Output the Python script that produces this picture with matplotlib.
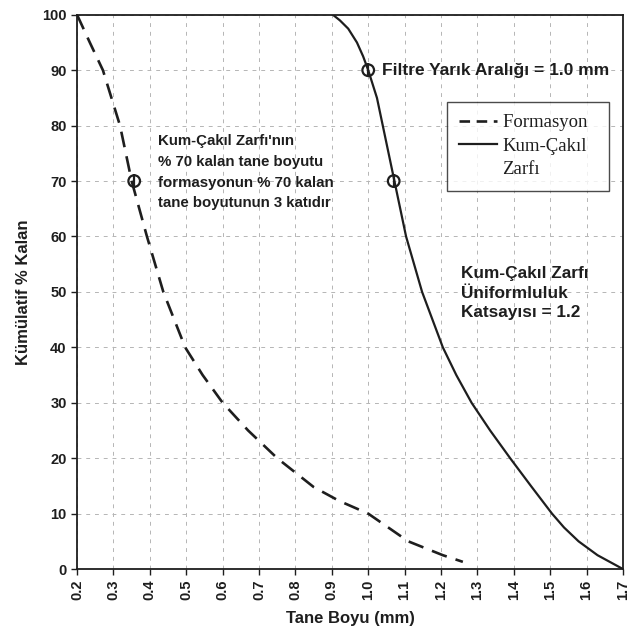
import matplotlib

matplotlib.use("Agg")
import matplotlib.pyplot as plt
from matplotlib.lines import Line2D

formasyon_x = [0.20, 0.235, 0.271, 0.318, 0.350, 0.392, 0.437, 0.497, 0.545, 0.60, 0.67, 0.75, 0.85, 0.92, 1.00, 1.11, 1.205, 1.26]
formasyon_y = [100, 95, 90, 80, 70, 60, 50, 40, 35, 30, 25, 20, 14.8, 12.3, 10, 5, 2.5, 1.3]

zarf_x = [0.903, 0.922, 0.945, 0.969, 0.986, 1.00, 1.024, 1.040, 1.072, 1.104, 1.148, 1.205, 1.242, 1.284, 1.335, 1.390, 1.447, 1.505, 1.538, 1.578, 1.630, 1.70]
zarf_y = [100, 99, 97.5, 95, 92.5, 90, 85, 80, 70, 60, 50, 40, 35, 30, 25, 20, 15, 10, 7.5, 5, 2.5, 0]

marker_x = [0.357, 1.00, 1.07]
marker_y = [70, 90, 70]

x_ticks = [0.2, 0.3, 0.4, 0.5, 0.6, 0.7, 0.8, 0.9, 1.0, 1.1, 1.2, 1.3, 1.4, 1.5, 1.6, 1.7]
y_ticks = [0, 10, 20, 30, 40, 50, 60, 70, 80, 90, 100]

note_left = "Kum-Çakıl Zarfı'nın\n% 70 kalan tane boyutu\nformasyonun % 70 kalan\ntane boyutunun 3 katıdır"
note_filter = "Filtre Yarık Aralığı = 1.0 mm"
note_uniform = "Kum-Çakıl Zarfı\nÜniformluluk\nKatsayısı = 1.2"

plt.rcParams["font.family"] = ["Liberation Sans", "DejaVu Sans"]
ink = "#1e1e1e"

fig = plt.figure(figsize=(6.37, 6.43), dpi=100)
ax = fig.add_axes([0.121, 0.115, 0.857, 0.862])

ax.plot(formasyon_x, formasyon_y, color=ink, lw=1.9, dashes=(6, 3.5),
        solid_capstyle="butt")
ax.plot(zarf_x, zarf_y, color=ink, lw=1.6)

ax.scatter(marker_x, marker_y, s=70, facecolor="none", edgecolor=ink, lw=1.6, zorder=5)
ax.scatter(marker_x, marker_y, s=110, marker="|", color=ink, lw=1.6, zorder=5)

ax.text(0.423, 71.6, note_left, fontsize=10.8, fontweight="bold", color=ink,
        va="center", ha="left", linespacing=1.62)
ax.text(1.038, 90, note_filter, fontsize=12.5, fontweight="bold", color=ink,
        va="center", ha="left")
ax.text(1.255, 49.8, note_uniform, fontsize=12.4, fontweight="bold", color=ink,
        va="center", ha="left", linespacing=1.38)

ax.set_xlim(0.2, 1.7)
ax.set_ylim(0, 100)
ax.set_xticks(x_ticks)
ax.set_xticklabels([f"{t:.1f}" for t in x_ticks], rotation=90)
ax.set_yticks(y_ticks)
ax.tick_params(direction="out", length=4, width=1, labelsize=10.5, colors=ink)
for lab in ax.get_xticklabels() + ax.get_yticklabels():
    lab.set_fontweight("bold")

ax.grid(True, color="#b5b5b5", lw=0.7, linestyle=(0, (4, 5)))
for s in ax.spines.values():
    s.set_linewidth(1.3)
    s.set_color(ink)

ax.set_xlabel("Tane Boyu (mm)", fontsize=12, fontweight="bold", color=ink, labelpad=8)
ax.set_ylabel("Kümülatif % Kalan", fontsize=12, fontweight="bold", color=ink, labelpad=8)

# legend: second label wraps onto a row without a handle, as in the original
handles = [
    Line2D([], [], color=ink, lw=1.9, dashes=(4, 2.5)),
    Line2D([], [], color=ink, lw=1.6),
    Line2D([], [], color="none"),
]
labels = ["Formasyon  ", "Kum-Çakıl", "Zarfı"]
leg = ax.legend(handles, labels, loc="upper left", bbox_to_anchor=(0.678, 0.843),
                frameon=True, fancybox=False, edgecolor=ink, handlelength=2.0,
                labelspacing=0.35, borderpad=0.65, handletextpad=0.3,
                borderaxespad=0,
                prop={"family": "Liberation Serif", "size": 13.5})
leg.get_frame().set_linewidth(1.0)
for t in leg.get_texts():
    t.set_color(ink)

fig.savefig("out.png", dpi=100)
plt.close(fig)
